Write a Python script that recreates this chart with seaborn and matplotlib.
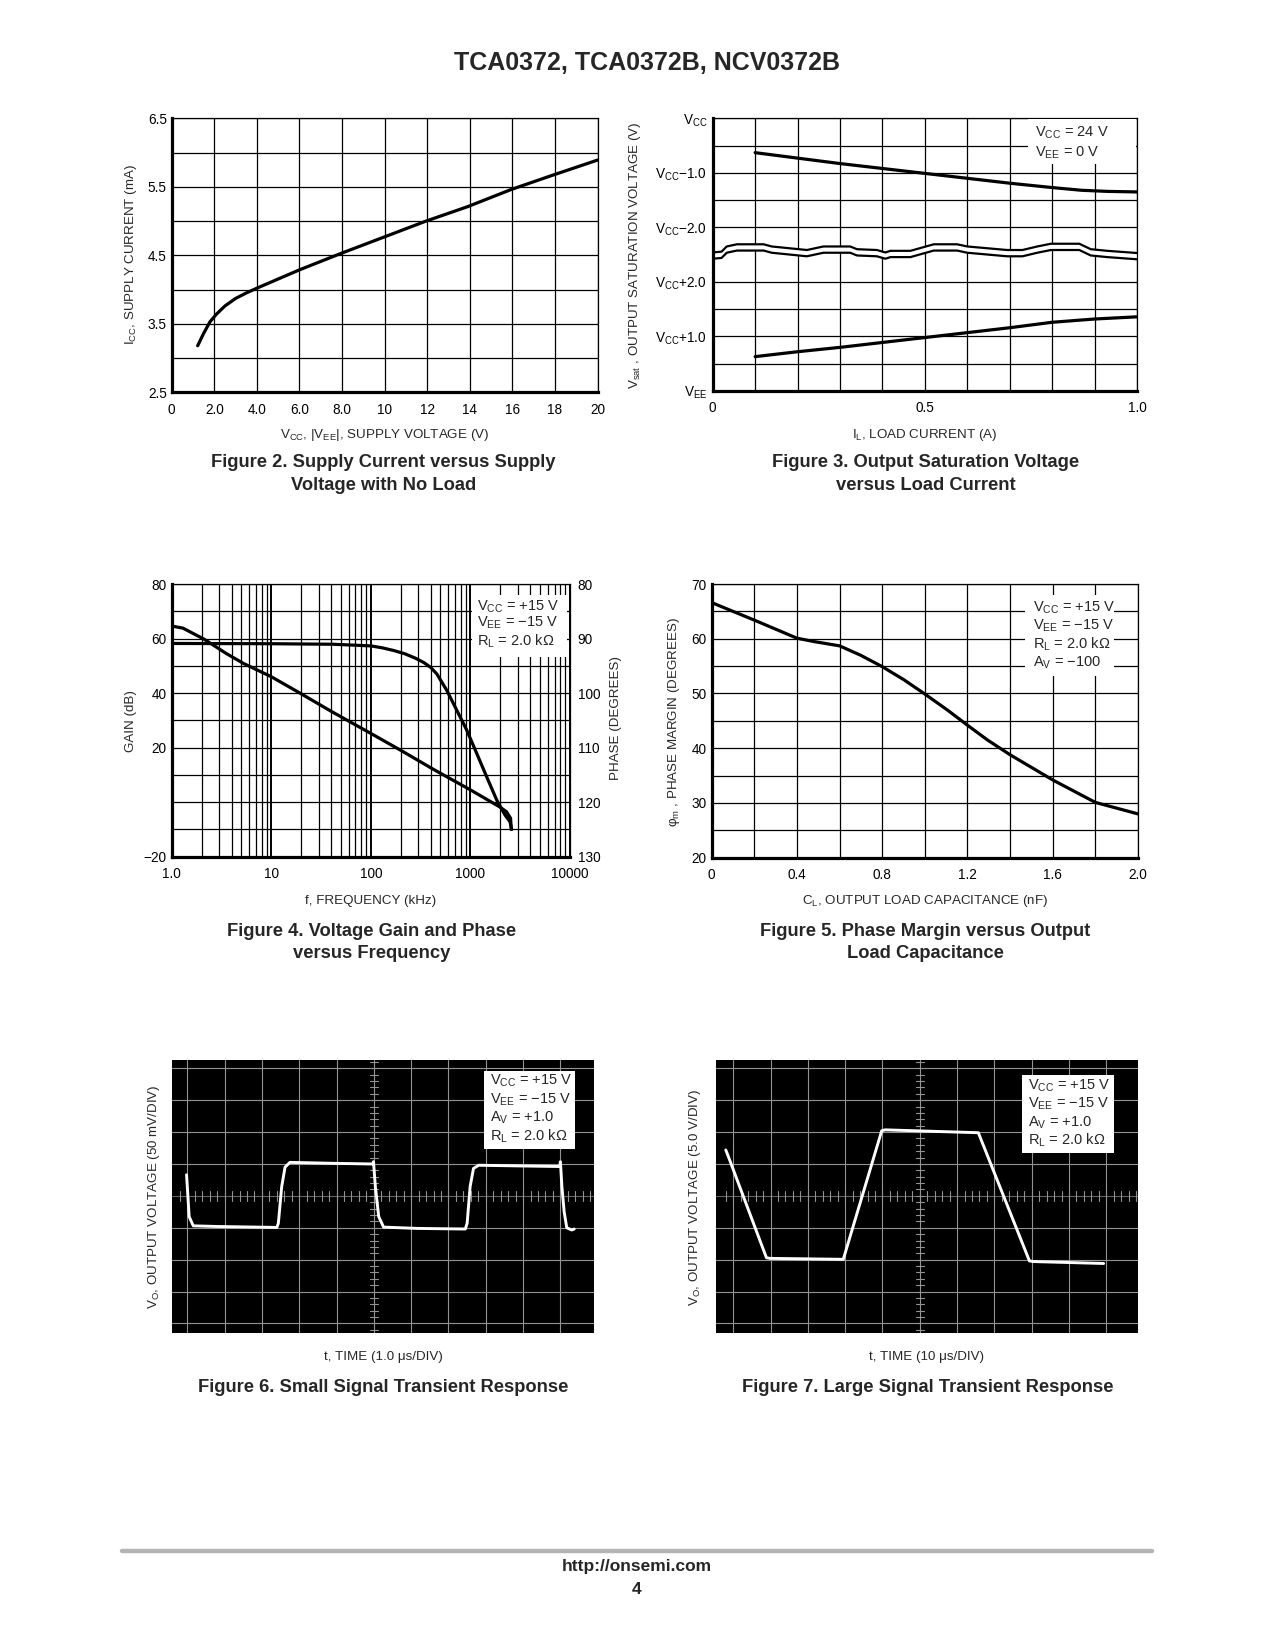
import numpy as np
import matplotlib
matplotlib.use("Agg")
import matplotlib.pyplot as plt
import seaborn as sns
from matplotlib import font_manager
from matplotlib.lines import Line2D
from matplotlib.patches import Rectangle
from matplotlib.ticker import FixedLocator

W, H = 1275, 1650

# ---- Figure 2: supply current vs supply voltage
supply_v = [1.22, 1.5, 1.8, 2.1, 2.5, 3.0, 3.5, 4.0, 6.02, 7.97, 9.92, 11.95, 13.9, 15.94, 17.9, 19.14, 20.0]
supply_i = [3.18, 3.36, 3.53, 3.64, 3.76, 3.87, 3.95, 4.02, 4.29, 4.53, 4.76, 5.00, 5.21, 5.46, 5.67, 5.80, 5.89]

# ---- Figure 3: saturation voltage vs load current (grid units, VEE = 0 ... VCC = 5)
load_hi = [0.1, 0.2, 0.3, 0.4, 0.5, 0.6, 0.7, 0.8, 0.87, 0.93, 1.0]
vsat_hi = [4.37, 4.27, 4.17, 4.08, 3.99, 3.90, 3.81, 3.73, 3.68, 3.66, 3.65]
load_lo = [0.1, 0.2, 0.3, 0.4, 0.5, 0.6, 0.7, 0.8, 0.9, 1.0]
vsat_lo = [0.63, 0.72, 0.80, 0.89, 0.98, 1.07, 1.16, 1.26, 1.32, 1.36]
vsat_ticks = [0, 1, 2, 3, 4, 5]
vsat_labels = [r'V$_{\rm EE}$', r'V$_{\rm CC}$+1.0', r'V$_{\rm CC}$+2.0',
               r'V$_{\rm CC}$−2.0', r'V$_{\rm CC}$−1.0', r'V$_{\rm CC}$']
# axis break outline
break_x = [0, 0.021, 0.033, 0.057, 0.12, 0.139, 0.222, 0.261, 0.324, 0.34, 0.387, 0.407, 0.419,
           0.466, 0.521, 0.576, 0.6, 0.694, 0.73, 0.765, 0.797, 0.864, 0.891, 0.93, 1.0]
break_y = [2.54, 2.555, 2.65, 2.69, 2.69, 2.65, 2.585, 2.65, 2.65, 2.60, 2.585, 2.54, 2.57,
           2.57, 2.69, 2.69, 2.65, 2.585, 2.585, 2.65, 2.70, 2.70, 2.60, 2.57, 2.53]
break_gap = 0.115

# ---- Figure 4: gain and phase vs frequency
gain_f = [1, 1.3, 2.13, 3.5, 5.24, 10, 19.4, 40, 100, 200, 422, 1000, 1960, 2300, 2530, 2570]
gain_db = [64.6, 63.8, 59.7, 54.6, 50.9, 46.0, 40.0, 33.3, 25.2, 19.0, 12.1, 4.5, -1.7, -3.5, -5.9, -10.0]
phase_f = [1, 10, 42, 100, 130, 170, 220, 280, 340, 400, 460, 577, 727, 916, 1156, 1456, 1836,
           2224, 2497, 2597]
phase_deg = [90.9, 90.95, 91.05, 91.35, 91.7, 92.2, 92.8, 93.6, 94.4, 95.3, 96.5, 99.45, 103.1,
             106.75, 111.05, 115.35, 119.6, 122.35, 123.6, 125.0]

# ---- Figure 5: phase margin vs load capacitance
cap_nf = [0, 0.2, 0.4, 0.478, 0.6, 0.698, 0.8, 0.902, 1.0, 1.105, 1.2, 1.294, 1.4, 1.6, 1.8, 2.0]
phase_margin = [66.6, 63.4, 60.1, 59.5, 58.7, 57.0, 54.9, 52.5, 49.9, 47.0, 44.2, 41.5, 38.8, 34.2, 30.1, 28.0]

# ---- Figure 6 / 7: scope traces (divisions)
small_t = [-0.02, 0.0, 0.05, 0.16, 0.79, 2.40, 2.44, 2.53, 2.62, 2.75, 3.92, 4.97, 4.99, 5.04, 5.13,
           5.26, 6.15, 7.45, 7.50, 7.58, 7.67, 7.81, 8.84, 9.98, 10.0, 10.04, 10.10, 10.17, 10.30, 10.37]
small_v = [4.66, 4.29, 3.35, 3.06, 3.04, 3.01, 3.14, 4.29, 4.90, 5.05, 5.02, 5.00, 5.07, 4.29, 3.35,
           3.02, 2.98, 2.96, 3.14, 4.29, 4.86, 4.96, 4.94, 4.92, 5.07, 4.29, 3.50, 3.00, 2.93, 2.96]
large_t = [-0.20, -0.13, 0.89, 0.98, 2.95, 3.98, 4.07, 6.57, 7.94, 8.05, 9.93]
large_v = [5.44, 5.23, 2.06, 2.04, 2.01, 6.04, 6.07, 5.98, 1.96, 1.94, 1.88]

cond_15 = [r'V$_{\rm CC}$ = +15 V', r'V$_{\rm EE}$ = −15 V', r'R$_{\rm L}$ = 2.0 kΩ']

# fonts
names = {f.name for f in font_manager.fontManager.ttflist}
narrow = 'Liberation Sans Narrow' if 'Liberation Sans Narrow' in names else 'Liberation Sans'
wide = narrow != 'Liberation Sans Narrow'
sns.set_theme(style='white')
plt.rcParams['font.family'] = [narrow, 'DejaVu Sans']
plt.rcParams['mathtext.fontset'] = 'custom'
plt.rcParams['mathtext.rm'] = narrow
plt.rcParams['mathtext.it'] = narrow
plt.rcParams['axes.unicode_minus'] = True
TICK = 9.8 if wide else 10.7
LAB = 9.6 if wide else 11.0
LEG = 10.5 if wide else 11.5
BOLD = 'Liberation Sans'

fig = plt.figure(figsize=(W / 100, H / 100), dpi=100)
fig.patch.set_facecolor('white')


def add_ax(l, t, r, b):
    return fig.add_axes([l / W, 1 - b / H, (r - l) / W, (b - t) / H])


def ftext(x, y, s, **kw):
    kw.setdefault('ha', 'center')
    kw.setdefault('va', 'center')
    kw.setdefault('zorder', 6)
    fig.text(x / W, 1 - y / H, s, **kw)


def white_box(l, t, r, b):
    fig.add_artist(Rectangle((l / W, 1 - b / H), (r - l) / W, (b - t) / H,
                             transform=fig.transFigure, fc='white', ec='none', zorder=5))


def legend(l, t, r, b, x, ys, lines):
    white_box(l, t, r, b)
    for y, s in zip(ys, lines):
        ftext(x, y, s, ha='left', fontsize=LEG)


def frame(ax):
    ax.set_facecolor('white')
    ax.set_axisbelow(True)
    ax.grid(True, which='both', color='black', lw=0.9)
    for s in ['top', 'right']:
        ax.spines[s].set_linewidth(0.9)
        ax.spines[s].set_color('black')
    for s in ['left', 'bottom']:
        ax.spines[s].set_linewidth(2.3)
        ax.spines[s].set_color('black')
    ax.tick_params(which='both', length=0, labelsize=TICK, colors='black')
    ax.tick_params(axis='x', pad=7.5)
    ax.tick_params(axis='y', pad=3.5)


def curve(ax, x, y, **kw):
    sns.lineplot(x=x, y=y, ax=ax, color='black', lw=2.3, sort=False, estimator=None, **kw)


# ---------- Figure 2
ax2 = add_ax(171.7, 118.3, 597.5, 392.3)
frame(ax2)
ax2.set_xlim(0, 20)
ax2.set_ylim(2.5, 6.5)
ax2.set_xticks(range(0, 21, 2), ['0', '2.0', '4.0', '6.0', '8.0', '10', '12', '14', '16', '18', '20'])
ax2.set_yticks([2.5, 3.5, 4.5, 5.5, 6.5], ['2.5', '3.5', '4.5', '5.5', '6.5'])
ax2.yaxis.set_minor_locator(FixedLocator([3.0, 4.0, 5.0, 6.0]))
curve(ax2, supply_v, supply_i)

# ---------- Figure 3
ax3 = add_ax(712.7, 118.3, 1137, 391)
frame(ax3)
ax3.set_xlim(0, 1.0)
ax3.set_ylim(0, 5)
ax3.set_xticks([0, 0.5, 1.0], ['0', '0.5', '1.0'])
ax3.xaxis.set_minor_locator(FixedLocator([0.1, 0.2, 0.3, 0.4, 0.6, 0.7, 0.8, 0.9]))
ax3.set_yticks(vsat_ticks, vsat_labels)
ax3.yaxis.set_minor_locator(FixedLocator([0.5, 1.5, 3.5, 4.5]))
ax3.tick_params(axis='y', pad=4)
lower = [v - break_gap for v in break_y]
ax3.fill_between(break_x, lower, break_y, color='white', zorder=2.2, lw=0)
ax3.plot(break_x, break_y, color='black', lw=1.6, zorder=2.3)
ax3.plot(break_x, lower, color='black', lw=1.6, zorder=2.3)
curve(ax3, load_hi, vsat_hi)
curve(ax3, load_lo, vsat_lo)
legend(1028, 119.5, 1135.5, 164, 1035, [133, 153], [r'V$_{\rm CC}$ = 24 V', r'V$_{\rm EE}$ = 0 V'])

# ---------- Figure 4
ax4 = add_ax(171.7, 584, 570, 856.7)
ax4.set_xscale('log')
frame(ax4)
ax4.set_xlim(1, 10000)
ax4.set_ylim(-20, 80)
ax4.set_xticks([1, 10, 100, 1000, 10000], ['1.0', '10', '100', '1000', '10000'])
ax4.xaxis.set_minor_locator(FixedLocator([m * d for d in [1, 10, 100, 1000] for m in range(2, 10)]))
ax4.xaxis.set_minor_formatter(plt.NullFormatter())
ax4.set_yticks([-20, 20, 40, 60, 80], ['−20', '20', '40', '60', '80'])
ax4.yaxis.set_minor_locator(FixedLocator([-10, 0, 10, 30, 50, 70]))
ax4.grid(True, which='major', axis='x', color='black', lw=1.4)
curve(ax4, gain_f, gain_db)
ax4r = ax4.twinx()
ax4r.set_ylim(130, 80)
ax4r.set_yticks([80, 90, 100, 110, 120, 130])
ax4r.tick_params(length=0, labelsize=TICK, pad=5.5, colors='black')
ax4r.grid(False)
for s in ax4r.spines.values():
    s.set_visible(False)
curve(ax4r, phase_f, phase_deg)
ax4r.set_ylabel('')
legend(471.7, 595, 566.7, 656.7, 477, [606.7, 623.3, 641.7], cond_15)

# ---------- Figure 5
ax5 = add_ax(711.7, 584, 1138, 857.7)
frame(ax5)
ax5.set_xlim(0, 2.0)
ax5.set_ylim(20, 70)
ax5.set_xticks([0, 0.4, 0.8, 1.2, 1.6, 2.0], ['0', '0.4', '0.8', '1.2', '1.6', '2.0'])
ax5.xaxis.set_minor_locator(FixedLocator([0.2, 0.6, 1.0, 1.4, 1.8]))
ax5.set_yticks(range(20, 71, 10))
ax5.yaxis.set_minor_locator(FixedLocator([25, 35, 45, 55, 65]))
curve(ax5, cap_nf, phase_margin)
legend(1025, 595, 1114, 676, 1032.7, [608.3, 626, 644.3, 662.7], cond_15 + [r'A$_{\rm V}$ = −100'])


# ---------- scope panels
def scope(ax, xlim, tx, ty):
    ax.set_facecolor('black')
    for s in ax.spines.values():
        s.set_visible(False)
    ax.set_xlim(*xlim)
    ax.set_ylim(-0.30, 8.26)
    ax.set_xticks([])
    ax.set_yticks([])
    ax.grid(False)
    gc = '#939393'
    for gx in range(11):
        ax.axvline(gx, color=gc, lw=0.8)
    for gy in range(9):
        if gy != 4:
            ax.axhline(gy, color=gc, lw=0.8)
    ax.axhline(4, color=gc, lw=0.5)
    for t in np.arange(xlim[0] + 0.2, xlim[1], 0.2):
        tt = round(t / 0.2) * 0.2
        ax.plot([tt, tt], [3.84, 4.16], color=gc, lw=0.8)
    for t in np.arange(-0.2, 8.3, 0.2):
        ax.plot([4.89, 5.11], [t, t], color=gc, lw=0.8)
    sns.lineplot(x=tx, y=ty, ax=ax, color='white', lw=2.1, sort=False, estimator=None)


ax6 = add_ax(172, 1060, 594, 1333)
scope(ax6, (-0.41, 10.90), small_t, small_v)
legend(484.3, 1071, 575, 1149, 490, [1081, 1099.3, 1118.3, 1136.7],
       cond_15[:2] + [r'A$_{\rm V}$ = +1.0', cond_15[2]])

ax7 = add_ax(715.7, 1060, 1138, 1333)
scope(ax7, (-0.47, 10.85), large_t, large_v)
legend(1022.3, 1075, 1114, 1152.7, 1027.7, [1086, 1103.3, 1122.7, 1140],
       cond_15[:2] + [r'A$_{\rm V}$ = +1.0', cond_15[2]])

# ---------- axis labels
ftext(130.6, 255, r'I$_{\rm CC}$, SUPPLY CURRENT (mA)', rotation=90, fontsize=LAB)
ftext(384.6, 435, r'V$_{\rm CC}$, |V$_{\rm EE}$|, SUPPLY VOLTAGE (V)', fontsize=LAB)
ftext(635, 255, r'V$_{\rm sat}$ , OUTPUT SATURATION VOLTAGE (V)', rotation=90, fontsize=LAB)
ftext(925, 435, r'I$_{\rm L}$, LOAD CURRENT (A)', fontsize=LAB)
ftext(130.6, 721, 'GAIN (dB)', rotation=90, fontsize=LAB)
ftext(616, 718, 'PHASE (DEGREES)', rotation=90, fontsize=LAB)
ftext(371, 901, 'f, FREQUENCY (kHz)', fontsize=LAB)
ftext(674, 722, r'φ$_{\rm m}$ , PHASE MARGIN (DEGREES)', rotation=90, fontsize=LAB)
ftext(925, 901, r'C$_{\rm L}$, OUTPUT LOAD CAPACITANCE (nF)', fontsize=LAB)
ftext(154, 1197, r'V$_{\rm O}$, OUTPUT VOLTAGE (50 mV/DIV)', rotation=90, fontsize=LAB)
ftext(383, 1356.7, 't, TIME (1.0 μs/DIV)', fontsize=LAB)
ftext(695, 1197, r'V$_{\rm O}$, OUTPUT VOLTAGE (5.0 V/DIV)', rotation=90, fontsize=LAB)
ftext(927, 1356.7, 't, TIME (10 μs/DIV)', fontsize=LAB)

# ---------- captions
CAP = 13.2
cap = dict(fontsize=CAP, fontweight='bold', family=BOLD)
ftext(383.3, 463, 'Figure 2. Supply Current versus Supply', **cap)
ftext(383.3, 485, 'Voltage with No Load', **cap)
ftext(926, 463, 'Figure 3. Output Saturation Voltage', **cap)
ftext(926, 485, 'versus Load Current', **cap)
ftext(371.7, 931, 'Figure 4. Voltage Gain and Phase', **cap)
ftext(371.7, 954, 'versus Frequency', **cap)
ftext(925.6, 931, 'Figure 5. Phase Margin versus Output', **cap)
ftext(925.6, 954, 'Load Capacitance', **cap)
ftext(382.8, 1388, 'Figure 6. Small Signal Transient Response', **cap)
ftext(927.7, 1388, 'Figure 7. Large Signal Transient Response', **cap)

# ---------- page header / footer
ftext(647, 63, 'TCA0372, TCA0372B, NCV0372B', fontsize=18, fontweight='bold', family=BOLD)
fig.add_artist(Line2D([122 / W, 1152 / W], [1 - 1551 / H, 1 - 1551 / H], color='#b4b4b4', lw=3.2,
                      transform=fig.transFigure))
ftext(636.6, 1567, 'http://onsemi.com', fontsize=12.5, fontweight='bold', family=BOLD)
ftext(636.6, 1590, '4', fontsize=12.5, fontweight='bold', family=BOLD)

fig.savefig('out.png', dpi=100, facecolor='white')
